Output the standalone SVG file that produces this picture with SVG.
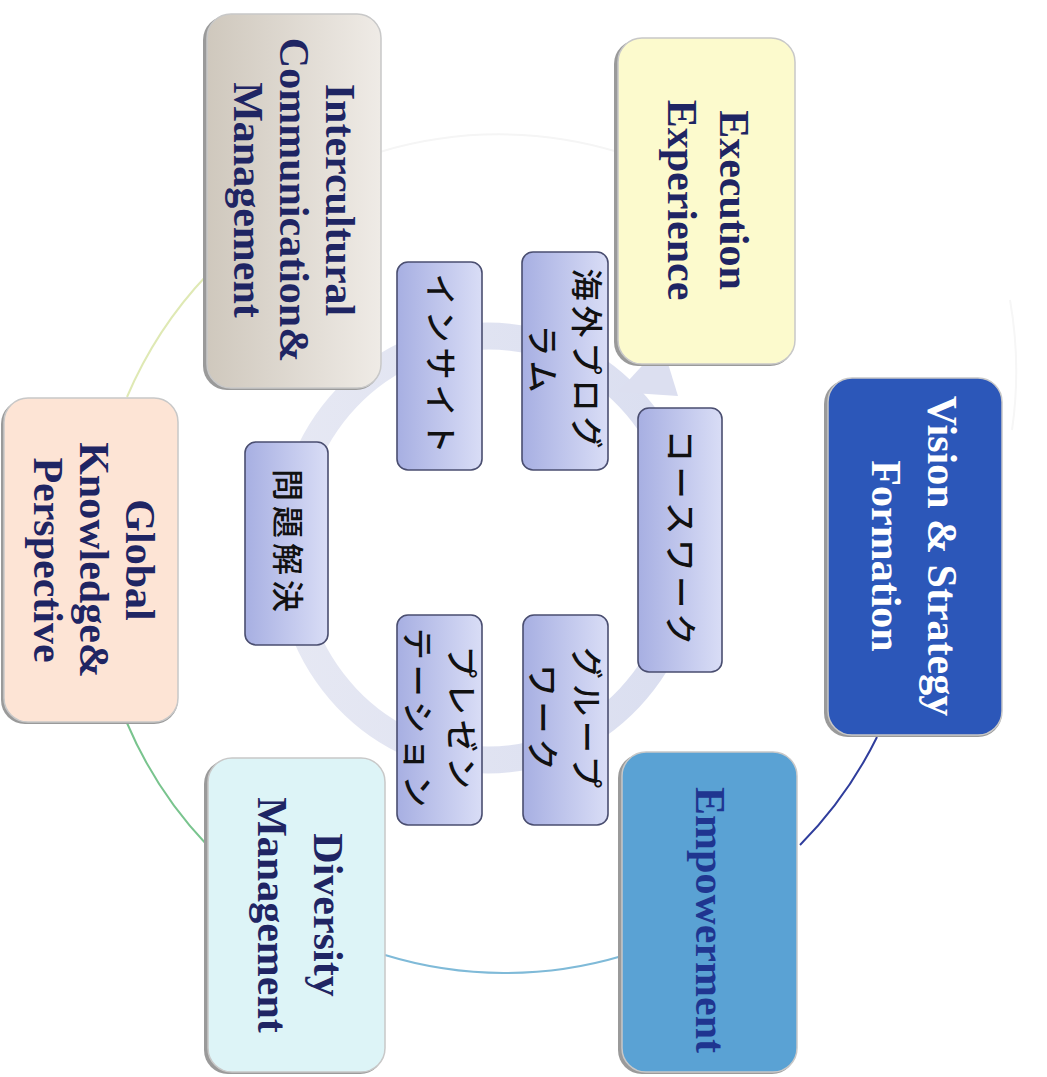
<svg xmlns="http://www.w3.org/2000/svg" width="1047" height="1077" viewBox="0 0 1047 1077">
<defs>
<style>
.en{font-family:"Liberation Serif","Times New Roman",serif;font-weight:bold;font-size:42px;fill:#1f2563;text-anchor:middle}
.jp{font-family:"Noto Sans CJK JP","Noto Sans",sans-serif;font-weight:500;font-size:32px;fill:#111;text-anchor:middle;letter-spacing:5px}
.inner{stroke:#4a4e70;stroke-width:1.6}
.outer{stroke:#c8c8c8;stroke-width:1.5}
.shadow{fill:#9a9a9a}
.conn{fill:none;stroke-width:2}
</style>
<linearGradient id="gInner" x1="0" y1="0" x2="1" y2="0">
<stop offset="0" stop-color="#a7afe2"/>
<stop offset="1" stop-color="#d9ddf6"/>
</linearGradient>
<linearGradient id="gGray" x1="0" y1="0" x2="1" y2="0">
<stop offset="0" stop-color="#cfc8bd"/>
<stop offset="1" stop-color="#efebe6"/>
</linearGradient>
<linearGradient id="gRing" x1="0" y1="0" x2="1" y2="0">
<stop offset="0" stop-color="#e6e8f3"/>
<stop offset="1" stop-color="#dadef0"/>
</linearGradient>
</defs>
<rect width="1047" height="1077" fill="#ffffff"/>

<g id="connectors">
<path class="conn" d="M207,275 A410,410 0 0 0 127,397" stroke="#dfe9b4"/>
<path class="conn" d="M127,723 A410,410 0 0 0 207,845" stroke="#79c48e"/>
<path class="conn" d="M385,955 A410,410 0 0 0 622,956" stroke="#7fbad8"/>
<path class="conn" d="M800,845 A410,410 0 0 0 877,737" stroke="#2f3d9c"/>
<path class="conn" d="M380,152 A410,410 0 0 1 618,152" stroke="#f5f5f5"/>
<path class="conn" d="M1010,300 A410,410 0 0 1 1012,430" stroke="#f6f6f6"/>
</g>

<g id="ring">
<ellipse cx="488" cy="548" rx="200" ry="212" fill="none" stroke="url(#gRing)" stroke-width="27"/>
<polygon points="678,396 662,344 618,392" fill="#dcdff0"/>
</g>

<g id="node-intercultural">
<rect class="shadow" x="203" y="16" width="177" height="374" rx="24"/>
<rect class="outer" x="207" y="14" width="174" height="374" rx="24" fill="url(#gGray)"/>
<text class="en" transform="translate(294,200) rotate(90)"><tspan x="0" y="-32">Intercultural</tspan><tspan x="0" y="14">Communication&amp;</tspan><tspan x="0" y="60">Management</tspan></text>
</g>

<g id="node-execution">
<rect class="shadow" x="614" y="40" width="180" height="326" rx="24"/>
<rect class="outer" x="618" y="38" width="177" height="326" rx="24" fill="#fcfacd"/>
<text class="en" transform="translate(708,200) rotate(90)"><tspan x="0" y="-12">Execution</tspan><tspan x="0" y="40">Experience</tspan></text>
</g>

<g id="node-vision">
<rect class="shadow" x="824" y="380" width="178" height="357" rx="24"/>
<rect class="outer" x="828" y="378" width="174" height="357" rx="24" fill="#2c57b9"/>
<text class="en" transform="translate(914,556) rotate(90)" style="fill:#ffffff"><tspan x="0" y="-14">Vision &amp; Strategy</tspan><tspan x="0" y="42">Formation</tspan></text>
</g>

<g id="node-global">
<rect class="shadow" x="1" y="400" width="177" height="324" rx="24"/>
<rect class="outer" x="4" y="398" width="174" height="324" rx="24" fill="#fde4d5"/>
<text class="en" transform="translate(94,560) rotate(90)"><tspan x="0" y="-32">Global</tspan><tspan x="0" y="14">Knowledge&amp;</tspan><tspan x="0" y="60">Perspective</tspan></text>
</g>

<g id="node-diversity">
<rect class="shadow" x="204" y="760" width="180" height="314" rx="24"/>
<rect class="outer" x="208" y="758" width="177" height="314" rx="24" fill="#ddf4f7"/>
<text class="en" transform="translate(298,915) rotate(90)"><tspan x="0" y="-16">Diversity</tspan><tspan x="0" y="40">Management</tspan></text>
</g>

<g id="node-empowerment">
<rect class="shadow" x="618" y="754" width="178" height="320" rx="24"/>
<rect class="outer" x="622" y="752" width="175" height="320" rx="24" fill="#5aa2d4"/>
<text class="en" transform="translate(710,920) rotate(90)" style="fill:#1f3590"><tspan x="0" y="14">Empowerment</tspan></text>
</g>

<g id="node-kaigai">
<rect class="inner" x="522" y="252" width="86" height="218" rx="11" fill="url(#gInner)"/>
<text class="jp" transform="translate(565,361) rotate(90)"><tspan x="0" y="-10">海外プログ</tspan><tspan x="0" y="34">ラム</tspan></text>
</g>

<g id="node-insight">
<rect class="inner" x="397" y="262" width="85" height="208" rx="11" fill="url(#gInner)"/>
<text class="jp" transform="translate(440,366) rotate(90)"><tspan x="0" y="11">インサイト</tspan></text>
</g>

<g id="node-coursework">
<rect class="inner" x="638" y="408" width="84" height="264" rx="11" fill="url(#gInner)"/>
<text class="jp" transform="translate(680,540) rotate(90)"><tspan x="0" y="11">コースワーク</tspan></text>
</g>

<g id="node-mondai">
<rect class="inner" x="245" y="442" width="83" height="203" rx="11" fill="url(#gInner)"/>
<text class="jp" transform="translate(287,543) rotate(90)"><tspan x="0" y="11">問題解決</tspan></text>
</g>

<g id="node-group">
<rect class="inner" x="523" y="615" width="85" height="210" rx="11" fill="url(#gInner)"/>
<text class="jp" transform="translate(565,720) rotate(90)"><tspan x="0" y="-10">グループ</tspan><tspan x="0" y="34">ワーク</tspan></text>
</g>

<g id="node-presen">
<rect class="inner" x="397" y="615" width="85" height="210" rx="11" fill="url(#gInner)"/>
<text class="jp" transform="translate(440,720) rotate(90)"><tspan x="0" y="-10">プレゼン</tspan><tspan x="0" y="34">テーション</tspan></text>
</g>
</svg>
